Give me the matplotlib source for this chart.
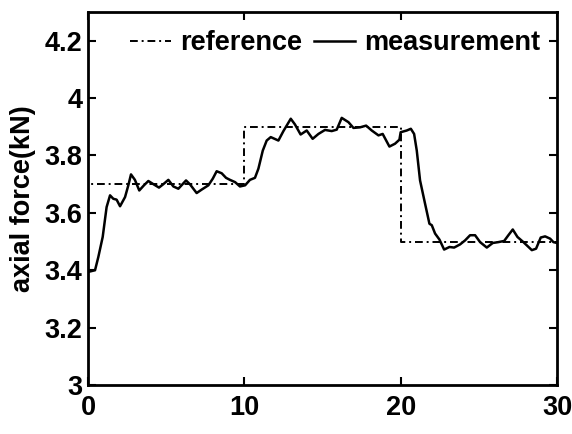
import matplotlib
matplotlib.use("Agg")
import matplotlib.pyplot as plt

# reference step signal
ref_t = [0, 0, 10, 10, 20, 20, 30]
ref_f = [3.0, 3.7, 3.7, 3.9, 3.9, 3.5, 3.5]

meas_t = [0.0, 0.45, 0.66, 0.94, 1.19, 1.41, 1.62, 1.83, 2.05, 2.37, 2.58, 2.75,
          3.0, 3.28, 3.58, 3.86, 4.18, 4.54, 4.82, 5.14, 5.46, 5.78, 6.27, 6.53,
          6.95, 7.27, 7.70, 7.98, 8.23, 8.55, 8.83, 9.08, 9.41, 9.72, 10.05, 10.36,
          10.68, 10.9, 11.18, 11.43, 11.69, 12.18, 12.5, 12.97, 13.24, 13.6, 13.99,
          14.37, 14.74, 15.16, 15.59, 15.91, 16.23, 16.66, 16.98, 17.4, 17.79,
          18.15, 18.58, 18.85, 19.28, 19.64, 19.92, 20.0, 20.39, 20.65, 20.86,
          21.03, 21.24, 21.56, 21.84, 21.99, 22.2, 22.48, 22.78, 23.12, 23.42,
          23.8, 24.12, 24.44, 24.76, 25.08, 25.51, 25.89, 26.25, 26.62, 26.89,
          27.17, 27.47, 27.85, 28.39, 28.66, 28.96, 29.24, 29.56, 29.77, 30.0]
meas_f = [3.394, 3.40, 3.446, 3.516, 3.62, 3.661, 3.649, 3.646, 3.623, 3.655, 3.696, 3.734,
          3.715, 3.678, 3.696, 3.711, 3.70, 3.688, 3.70, 3.715, 3.692, 3.684, 3.713, 3.699,
          3.669, 3.681, 3.696, 3.719, 3.745, 3.738, 3.722, 3.715, 3.707, 3.692, 3.696, 3.715,
          3.722, 3.754, 3.817, 3.852, 3.864, 3.852, 3.885, 3.928, 3.908, 3.873, 3.887,
          3.858, 3.875, 3.889, 3.885, 3.89, 3.931, 3.916, 3.896, 3.898, 3.904,
          3.887, 3.870, 3.875, 3.831, 3.841, 3.855, 3.881, 3.887, 3.893, 3.875,
          3.817, 3.713, 3.632, 3.562, 3.557, 3.528, 3.507, 3.472, 3.481, 3.479,
          3.490, 3.504, 3.522, 3.522, 3.498, 3.479, 3.495, 3.498, 3.502, 3.522,
          3.542, 3.516, 3.498, 3.470, 3.475, 3.514, 3.518, 3.510, 3.498, 3.495]

x_ticks = [0, 10, 20, 30]
y_ticks = [3, 3.2, 3.4, 3.6, 3.8, 4, 4.2]
y_tick_labels = ["3", "3.2", "3.4", "3.6", "3.8", "4", "4.2"]


def main():
    plt.rcParams["font.family"] = ["Liberation Sans", "DejaVu Sans"]
    plt.rcParams["font.weight"] = "bold"

    fig = plt.figure(figsize=(5.72, 4.34), dpi=100)
    ax = fig.add_axes([88 / 572, 1 - 385 / 434, (557 - 88) / 572, (385 - 12) / 434])

    ax.plot(ref_t, ref_f, color="black", linestyle=(0, (4, 2, 1, 2)), linewidth=1.4,
            label="reference")
    ax.plot(meas_t, meas_f, color="black", linestyle="-", linewidth=1.8, label="measurement")

    ax.set_xlim(0, 30)
    ax.set_ylim(3, 4.3)
    ax.set_xticks(x_ticks)
    ax.set_yticks(y_ticks)
    ax.set_yticklabels(y_tick_labels)
    ax.tick_params(direction="in", length=6, width=1.5, top=True, right=True,
                   labelsize=19.5)
    ax.tick_params(axis="y", pad=4)
    ax.tick_params(axis="x", pad=7)
    for s in ax.spines.values():
        s.set_linewidth(2)

    ax.set_ylabel("axial force(kN)", fontsize=19.5, fontweight="bold", labelpad=6)

    ax.legend(loc="center", bbox_to_anchor=(0.527, 0.916), ncol=2,
              frameon=False, fontsize=19.5, handlelength=1.5,
              handletextpad=0.33, columnspacing=0.45, borderpad=0.2)

    fig.savefig("out.png", dpi=100)


if __name__ == "__main__":
    main()
